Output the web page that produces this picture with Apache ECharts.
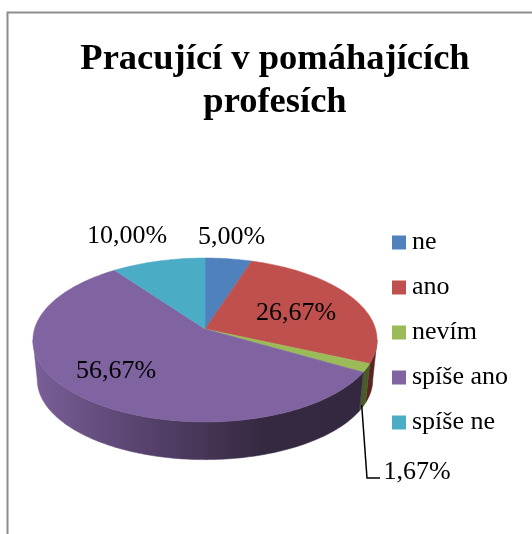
<!DOCTYPE html>
<html>
<head>
<meta charset="utf-8">
<style>
  html, body { margin: 0; background: #fff; }
  #chart { width: 532px; height: 534px; }
</style>
<script src="https://cdn.jsdelivr.net/npm/echarts@6/dist/echarts.min.js"></script>
</head>
<body>
<div id="chart"></div>
<script>
const categories = ["ne", "ano", "nevím", "spíše ano", "spíše ne"]
const shares = [5.0, 26.67, 1.67, 56.67, 10.0]

const titleText = "Pracující v pomáhajících\nprofesích"
const topColors = ["#4f81bd", "#c0504d", "#9bbb59", "#8064a2", "#4bacc6"]
const fontFamily = '"Liberation Serif", serif'

// label centres, kept apart from the values
const labelAnchors = [[231.5, 237], [296, 313], [417, 472], [116, 371], [127, 236]]

// disc seen in perspective: apex is not the centre of the outline
const disc = { cx: 205, cy: 329, a: 170.5, b: 80.5, k: 0.134, depth: 40, shrink: 0.975 }
const wallFrom = 97.7
const wallTo = 262.3

const total = shares.reduce((s, v) => s + v, 0)

function project(deg, lower) {
  const t = deg * Math.PI / 180
  const u = Math.sin(t)
  const v = -Math.cos(t)
  const d = 1 - disc.k * v
  const s = lower ? disc.shrink : 1
  return [
    disc.cx + s * disc.a * u / d,
    disc.cy + (lower ? disc.depth : 0) + s * disc.b * v / d
  ]
}

function arc(from, to, lower) {
  const pts = []
  const n = Math.max(1, Math.ceil(to - from))
  for (let i = 0; i <= n; i++) pts.push(project(from + (to - from) * i / n, lower))
  return pts
}

function wallFill(i) {
  if (i === 1) return "#5a2422"
  if (i === 2) return "#4a5c2a"
  return new echarts.graphic.LinearGradient(0, 0, 1, 0, [
    { offset: 0, color: "#7a5f99" },
    { offset: 0.35, color: "#55416b" },
    { offset: 0.7, color: "#352940" },
    { offset: 1, color: "#342840" }
  ])
}

function renderSlice(i, api) {
  const value = api.value(0)
  const before = shares.slice(0, i).reduce((s, v) => s + v, 0)
  const start = before / total * 360
  const end = start + value / total * 360
  const color = topColors[i]
  const children = []

  const from = Math.max(start, wallFrom)
  const to = Math.min(end, wallTo)
  if (to > from) {
    const fill = wallFill(i)
    children.push({
      type: "polygon",
      shape: { points: arc(from, to, false).concat(arc(from, to, true).reverse()) },
      style: { fill: fill, stroke: fill, lineWidth: 0.5 }
    })
  }

  children.push({
    type: "polygon",
    shape: { points: [[disc.cx, disc.cy]].concat(arc(start, end, false)) },
    style: { fill: color, stroke: color, lineWidth: 0.5 }
  })

  // small slice: label sits outside with a leader line
  if (i === 2) {
    const foot = project((start + end) / 2, true)
    children.push({
      type: "polyline",
      shape: { points: [[foot[0] - 1, foot[1] - 2], [367, 478], [380, 478]] },
      style: { fill: "none", stroke: "#000", lineWidth: 1.5 }
    })
  }

  children.push({
    type: "text",
    z2: 10,
    style: {
      x: labelAnchors[i][0],
      y: labelAnchors[i][1],
      text: value.toFixed(2).replace(".", ",") + "%",
      font: "26px " + fontFamily,
      fill: "#000",
      textAlign: "center",
      textVerticalAlign: "middle"
    }
  })
  return { type: "group", children: children }
}

const chart = echarts.init(document.getElementById("chart"), null, { renderer: "canvas" })
chart.setOption({
  animation: false,
  backgroundColor: "#fff",
  title: {
    text: titleText,
    left: 270,
    top: 33,
    textAlign: "center",
    textStyle: {
      fontFamily: fontFamily,
      fontWeight: "bold",
      fontSize: 36.5,
      lineHeight: 43,
      color: "#000"
    }
  },
  legend: {
    orient: "vertical",
    left: 392,
    top: 226,
    padding: 0,
    icon: "rect",
    itemWidth: 14,
    itemHeight: 14,
    itemGap: 12,
    selectedMode: false,
    data: categories,
    textStyle: { fontFamily: fontFamily, fontSize: 26, color: "#000", lineHeight: 30, padding: [3, 0, 0, 1] }
  },
  graphic: [{
    type: "polyline",
    shape: { points: [[7.5, 534], [7.5, 12.5], [532, 12.5]] },
    style: { fill: "none", stroke: "#8c8c8c", lineWidth: 2 }
  }],
  series: categories.map((name, i) => ({
    type: "custom",
    name: name,
    coordinateSystem: "none",
    itemStyle: { color: topColors[i] },
    renderItem: (params, api) => renderSlice(i, api),
    data: [shares[i]]
  }))
})
</script>
</body>
</html>
